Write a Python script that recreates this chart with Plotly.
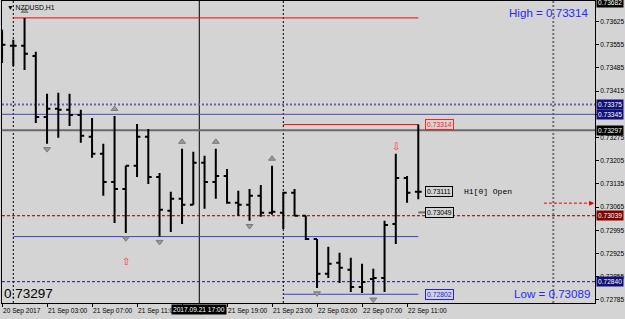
import plotly.graph_objects as go
import pandas as pd

# ---------------- data ----------------
symbol_title = "NZDUSD,H1"
bar_times = pd.date_range("2017-09-20 23:00", periods=38, freq="h")
opens = [0.73555, 0.73552, 0.73552, 0.73521, 0.73337, 0.73362, 0.73359, 0.73343, 0.73277, 0.73226,
         0.73141, 0.73120, 0.73190, 0.73277, 0.73156, 0.73054, 0.73090, 0.73072, 0.73199, 0.73141,
         0.73159, 0.73078, 0.73072, 0.73099, 0.73048, 0.73048, 0.73108, 0.73039, 0.72969, 0.72864,
         0.72897, 0.72876, 0.72824, 0.72848, 0.72851, 0.73014, 0.73153, 0.73111]
highs = [0.73600, 0.73570, 0.73636, 0.73534, 0.73407, 0.73410, 0.73407, 0.73359, 0.73334, 0.73256,
         0.73340, 0.73190, 0.73316, 0.73301, 0.73168, 0.73111, 0.73241, 0.73232, 0.73220, 0.73241,
         0.73180, 0.73114, 0.73120, 0.73132, 0.73190, 0.73111, 0.73120, 0.73039, 0.72969, 0.72945,
         0.72927, 0.72912, 0.72894, 0.72879, 0.73024, 0.73226, 0.73159, 0.73314]
lows = [0.73500, 0.73491, 0.73479, 0.73319, 0.73256, 0.73274, 0.73310, 0.73259, 0.73214, 0.73099,
        0.73017, 0.72987, 0.73156, 0.73135, 0.72976, 0.72990, 0.73014, 0.73072, 0.73060, 0.73090,
        0.73075, 0.73039, 0.73024, 0.73036, 0.73042, 0.72999, 0.73039, 0.72966, 0.72821, 0.72851,
        0.72836, 0.72809, 0.72806, 0.72802, 0.72809, 0.72954, 0.73078, 0.73089]
closes = [0.73555, 0.73552, 0.73528, 0.73337, 0.73362, 0.73359, 0.73343, 0.73280, 0.73226, 0.73141,
          0.73120, 0.73190, 0.73277, 0.73156, 0.73057, 0.73090, 0.73072, 0.73199, 0.73141, 0.73159,
          0.73078, 0.73072, 0.73099, 0.73048, 0.73051, 0.73108, 0.73039, 0.72969, 0.72864, 0.72894,
          0.72882, 0.72824, 0.72839, 0.72851, 0.73011, 0.73153, 0.73108, 0.73111]

up_fractals = [2, 10, 16, 19, 24]
down_fractals = [4, 11, 14, 22, 28, 33]
buy_signals = [11]
sell_signals = [35]

x_tick_times = ["2017-09-20 23:00", "2017-09-21 03:00", "2017-09-21 07:00", "2017-09-21 11:00",
                "2017-09-21 15:00", "2017-09-21 19:00", "2017-09-21 23:00", "2017-09-22 03:00",
                "2017-09-22 07:00", "2017-09-22 11:00"]
x_tick_labels = ["20 Sep 2017", "21 Sep 03:00", "21 Sep 07:00", "21 Sep 11:00", "21 Sep 15:00",
                 "21 Sep 19:00", "21 Sep 23:00", "22 Sep 03:00", "22 Sep 07:00", "22 Sep 11:00"]
y_tick_values = [0.73625, 0.73555, 0.73485, 0.73415, 0.73345, 0.73275, 0.73205, 0.73135,
                 0.73065, 0.72995, 0.72925, 0.72855, 0.72785]

day_separators = ["2017-09-21 00:00", "2017-09-22 00:00"]
future_separator = "2017-09-23 00:00"
crosshair_time = "2017-09-21 16:32"
crosshair_label = "2017.09.21 17:00"
crosshair_price = 0.73297

prev_day_high = 0.73636
prev_day_low = 0.72976
day_high = 0.73314
day_low = 0.72802
h1_open = 0.73111
level_73049 = 0.73049
level_dotted = 0.73375
level_solid = 0.73345
bid_line = 0.73039
level_dashed = 0.72840
arrow_level = 0.73077

axis_marks = [(0.73682, "black"), (0.73375, "#101078"), (0.73345, "#101078"),
              (0.73297, "black"), (0.73039, "#800000"), (0.72840, "#101078")]

high_text = "High = 0.73314"
low_text = "Low = 0.73089"
price_text = "0.73297"

# ---------------- style ----------------
BG = "#D4D4D4"
FONT = "Liberation Sans"
x_range = ["2017-09-20 22:59:45", "2017-09-23 03:42:25"]
y_range = [0.727756, 0.73687]
last_t = bar_times[-1]
day_start = pd.Timestamp(day_separators[1])
prev_start = pd.Timestamp(day_separators[0])
marked = {round(v, 5) for v, _ in axis_marks}

fig = go.Figure()
fig.add_trace(go.Ohlc(
    x=bar_times, open=opens, high=highs, low=lows, close=closes,
    increasing=dict(line=dict(color="black", width=2)),
    decreasing=dict(line=dict(color="black", width=2)),
    tickwidth=0.3, showlegend=False, hoverinfo="skip"))

# fractals
fig.add_trace(go.Scatter(
    x=[bar_times[i] for i in up_fractals], y=[highs[i] + 0.00021 for i in up_fractals],
    mode="markers", marker=dict(symbol="triangle-up", size=6, color="#9a9a9a",
                                line=dict(color="#7a7a7a", width=1)),
    showlegend=False, hoverinfo="skip"))
fig.add_trace(go.Scatter(
    x=[bar_times[i] for i in down_fractals], y=[lows[i] - 0.00016 for i in down_fractals],
    mode="markers", marker=dict(symbol="triangle-down", size=6, color="#9a9a9a",
                                line=dict(color="#7a7a7a", width=1)),
    showlegend=False, hoverinfo="skip"))

shapes = []


def hline(y, x0, x1, color, width=1, dash="solid", xref="x"):
    shapes.append(dict(type="line", xref=xref, yref="y", x0=x0, x1=x1, y0=y, y1=y,
                       line=dict(color=color, width=width, dash=dash), layer="below"))


def vline(x, color, width=1, dash="solid"):
    shapes.append(dict(type="line", xref="x", yref="paper", x0=x, x1=x, y0=0, y1=1,
                       line=dict(color=color, width=width, dash=dash), layer="below"))


for s in day_separators:
    vline(s, "black", 1, "2px,2px")
vline(future_separator, "#707070", 2, "2px,2px")
vline(crosshair_time, "black", 1)

hline(level_dotted, 0, 1, "#6464AA", 2, "2px,2px", "paper")
hline(level_solid, 0, 1, "#4646C0", 1, "solid", "paper")
hline(crosshair_price, 0, 1, "#6a6a6a", 2, "solid", "paper")
hline(bid_line, 0, 1, "#800000", 1, "3px,2px", "paper")
hline(level_dashed, 0, 1, "#1a1a90", 1, "3px,2px", "paper")
hline(prev_day_high, prev_start, last_t, "#FF0000", 1)
hline(prev_day_low, prev_start, last_t, "#3C3CDC", 1)
hline(day_high, day_start, last_t, "#FF0000", 1)
hline(day_low, day_start, last_t, "#3C3CDC", 1)
hline(level_73049, last_t, last_t + pd.Timedelta(minutes=40), "#707070", 2)
hline(arrow_level, "2017-09-22 23:10", "2017-09-23 03:20", "#E00000", 1, "3px,2px")

annotations = []
# right-end arrow head
annotations.append(dict(x="2017-09-23 03:38", y=arrow_level, xref="x", yref="y", text="",
                        showarrow=True, ax=-6, ay=0, arrowhead=2, arrowsize=1, arrowwidth=1,
                        arrowcolor="#E00000"))

# x tick labels, left-aligned at the tick
for t, lab in zip(x_tick_times, x_tick_labels):
    annotations.append(dict(x=t, y=0, xref="x", yref="paper", text=lab, showarrow=False,
                            xanchor="left", yanchor="top", yshift=-2, xshift=-1,
                            font=dict(family=FONT, size=6.6, color="black")))
# crosshair time label
annotations.append(dict(x=crosshair_time, y=0, xref="x", yref="paper", text=crosshair_label,
                        showarrow=False, xanchor="center", yanchor="top", yshift=-1,
                        bgcolor="black", borderpad=1,
                        font=dict(family=FONT, size=6.6, color="white")))

# highlighted price labels on the right axis
for v, c in axis_marks:
    annotations.append(dict(x=1, y=v, xref="paper", yref="y", text=f"{v:.5f}", showarrow=False,
                            xanchor="left", yanchor="middle", xshift=1, bgcolor=c,
                            borderpad=1, font=dict(family=FONT, size=6.6, color="white")))

# in-chart boxed labels
for v, c in [(day_high, "#FF2020"), (h1_open, "black"), (level_73049, "black"), (day_low, "#2020FF")]:
    annotations.append(dict(x=last_t, y=v, xref="x", yref="y", text=f"{v:.5f}", showarrow=False,
                            xanchor="left", yanchor="middle", xshift=7, bordercolor=c,
                            borderwidth=1, borderpad=1, bgcolor=BG,
                            font=dict(family=FONT, size=6.8, color=c)))
annotations.append(dict(x=last_t, y=h1_open, xref="x", yref="y", text="H1[0] Open",
                        showarrow=False, xanchor="left", yanchor="middle", xshift=44,
                        font=dict(family="Liberation Mono", size=8, color="black")))

# signal arrows
for i in buy_signals:
    annotations.append(dict(x=bar_times[i], y=lows[i] - 0.00087, xref="x", yref="y", text="⇧",
                            showarrow=False, font=dict(family="DejaVu Sans", size=10, color="#FF3030")))
for i in sell_signals:
    annotations.append(dict(x=bar_times[i], y=highs[i] + 0.00021, xref="x", yref="y", text="⇩",
                            showarrow=False, font=dict(family="DejaVu Sans", size=10, color="#FF3030")))

# texts
annotations.append(dict(x=0, y=1, xref="paper", yref="paper", text="▼ " + symbol_title,
                        showarrow=False, xanchor="left", yanchor="top", xshift=3, yshift=-1,
                        font=dict(family=FONT, size=6.8, color="black")))
annotations.append(dict(x=1, y=1, xref="paper", yref="paper", text=high_text, showarrow=False,
                        xanchor="right", yanchor="top", xshift=-4, yshift=-3,
                        font=dict(family=FONT, size=11.6, color="#2828FF")))
annotations.append(dict(x=1, y=0, xref="paper", yref="paper", text=low_text, showarrow=False,
                        xanchor="right", yanchor="bottom", xshift=-3, yshift=1,
                        font=dict(family=FONT, size=11.6, color="#2828FF")))
annotations.append(dict(x=0, y=0, xref="paper", yref="paper", text=price_text, showarrow=False,
                        xanchor="left", yanchor="bottom", xshift=0, yshift=0,
                        font=dict(family=FONT, size=13.5, color="black")))

fig.update_layout(
    width=625, height=319, margin=dict(l=2, r=30, t=1, b=16),
    paper_bgcolor=BG, plot_bgcolor=BG, showlegend=False,
    shapes=shapes, annotations=annotations,
    xaxis=dict(type="date", range=x_range, showgrid=False, zeroline=False, showline=True,
               linecolor="black", linewidth=1, mirror=True, ticks="outside", ticklen=3,
               tickcolor="black", tickvals=x_tick_times, showticklabels=False,
               rangeslider=dict(visible=False), fixedrange=True),
    yaxis=dict(side="right", range=y_range, showgrid=False, zeroline=False, showline=True,
               linecolor="black", linewidth=1, mirror=True, ticks="outside", ticklen=3,
               tickcolor="black", tickvals=y_tick_values,
               ticktext=["" if round(v, 5) in marked else f"{v:.5f}" for v in y_tick_values],
               tickfont=dict(family=FONT, size=6.6, color="black"), fixedrange=True),
)

fig.write_html("out.html")
